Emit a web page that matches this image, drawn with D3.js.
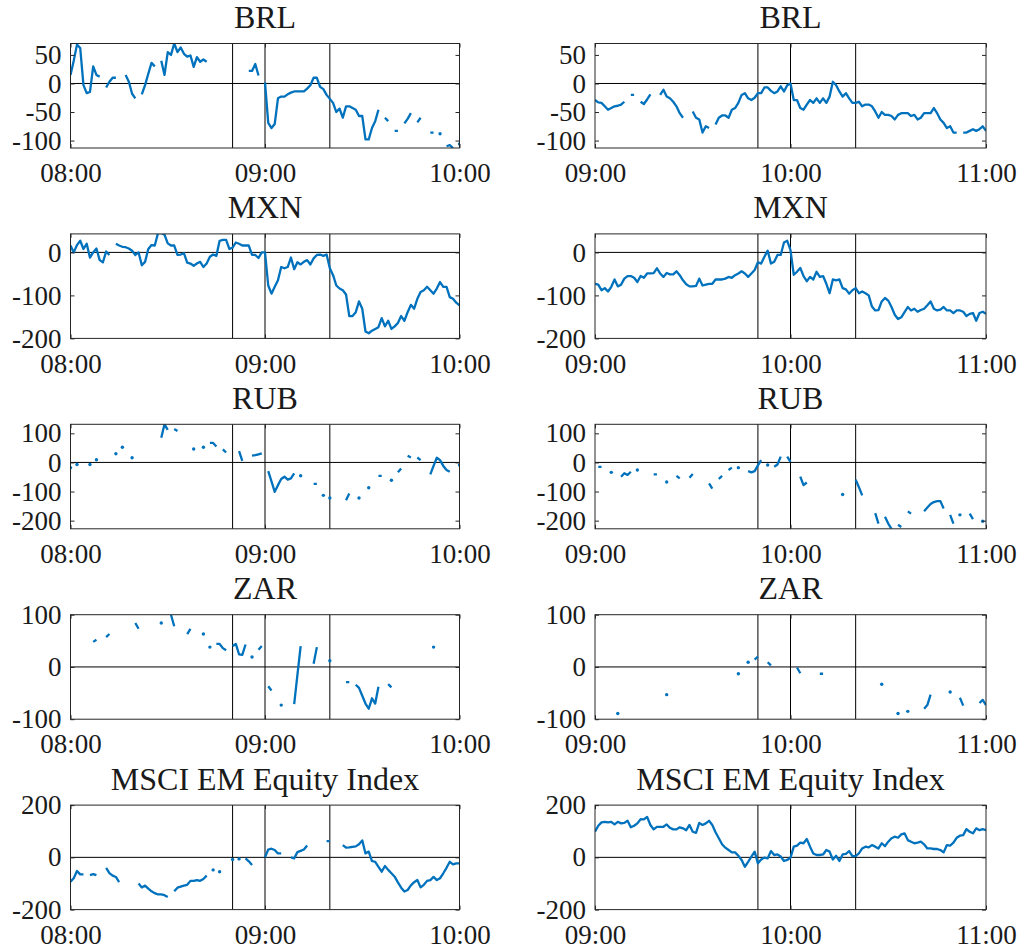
<!DOCTYPE html>
<html>
<head>
<meta charset="utf-8">
<script src="https://cdn.jsdelivr.net/npm/d3@7"></script>
<style>
  body { margin: 0; background: #fff; }
  svg { display: block; }
  text { font-family: "Liberation Serif", "Times New Roman", serif; fill: #1a1a1a; }
  .title { font-size: 32px; }
  .tick text { font-size: 27px; }
</style>
</head>
<body>
<svg id="chart" width="1021" height="952"></svg>
<script>
const _ = null;

// Minute-by-minute moves, 121 samples per two-hour window (null = no quote)
const brlL = [
  15, 40, 68, 62, -3, -17, -15, 30, 15, 12,
  _, -7, 3, 10, 10, _, _, 15, 3, -18,
  -26, _, -19, -3, 17, 36, 30, _, 40, 15,
  55, 50, 70, 55, 63, 52, 47, 49, 29, 46,
  38, 42, 38, _, _, _, _, _, _, _,
  _, _, _, _, _, 22, 22, 34, 14, _,
  2, -69, -78, -71, -26, -23, -23, -19, -16, -14,
  -14, -14, -14, -9, -3, 10, 10, -6, -10, -20,
  -27, -34, -50, -44, -60, -40, -40, -43, -46, -57,
  -57, -98, -98, -78, -66, -46, _, -60, -66, _,
  -83, -83, _, -70, -62, -52, _, -68, -60, _,
  _, -86, -86, _, -88, _, -110, -108, -113, _,
  -106
];
const brlR = [
  -29, -33, -34, -40, -46, -43, -40, -39, -37, -32,
  _, -20, -20, _, -32, -36, -28, -19, _, _,
  -20, -11, -23, -26, -32, -40, -52, -60, _, _,
  -49, -60, -63, -86, -75, -78, _, -72, -60, -56,
  -56, -60, -46, -43, -34, -20, -17, -26, -29, -25,
  -17, -17, -7, -7, -13, -17, -14, -5, -14, -3,
  0, -29, -29, -43, -46, -37, -29, -34, -26, -34,
  -26, -34, -23, 3, -3, -14, -23, -17, -26, -34,
  -34, -32, -40, -37, -37, -40, -49, -60, -50, -55,
  -55, -57, -63, -55, -52, -52, -52, -57, -55, -63,
  -60, -52, -52, -52, -43, -52, -63, -69, -78, -75,
  -86, -86, _, -86, -86, -83, -80, -83, -80, -75,
  -83
];
const mxnL = [
  16, 0, 17, 27, 8, 20, -12, 0, 9, -18,
  -23, 2, -6, _, 20, 16, 13, 12, 9, 4,
  -6, 0, -30, -22, 8, 17, 16, 45, 45, 41,
  21, 16, 16, -6, -5, -2, -24, -26, -31, -26,
  -22, -34, -26, -10, -5, -8, 27, 29, 29, 8,
  11, 23, 20, 16, 16, 16, -6, -6, -13, 0,
  0, -77, -96, -80, -65, -34, -37, -34, -12, -39,
  -23, -28, -22, -18, -28, -14, -6, -5, -8, -5,
  -37, -53, -77, -84, -88, -98, -148, -148, -139, -114,
  -131, -184, -188, -182, -178, -174, -153, -172, -159, -178,
  -172, -164, -148, -159, -139, -122, -131, -108, -92, -88,
  -80, -88, -96, -84, -69, -80, -80, -104, -108, -117,
  -123
];
const mxnR = [
  -73, -75, -88, -83, -91, -80, -63, -79, -75, -61,
  -55, -55, -59, -69, -55, -59, -49, -49, -48, -37,
  -49, -57, -48, -51, -51, -44, -53, -65, -74, -79,
  -79, -78, -61, -77, -75, -73, -73, -63, -63, -63,
  -61, -57, -59, -53, -49, -44, -49, -57, -49, -41,
  -23, -26, -10, 4, -26, -22, -6, -6, 23, 27,
  5, -52, -45, -36, -55, -67, -57, -63, -45, -57,
  -55, -73, -95, -63, -65, -63, -83, -86, -96, -88,
  -83, -95, -91, -95, -100, -126, -135, -134, -114, -106,
  -112, -127, -145, -155, -151, -139, -127, -135, -131, -138,
  -134, -131, -123, -114, -131, -135, -133, -127, -135, -135,
  -141, -135, -135, -138, -148, -143, -141, -159, -141, -138,
  -143
];
const rubL = [
  -18, _, -7, _, _, _, -7, _, 9, _,
  _, _, _, _, 30, _, 52, _, _, 16,
  _, _, _, _, _, _, _, _, 85, 131,
  112, _, 115, 108, _, _, _, _, 46, _,
  _, 52, _, 67, 67, 55, _, 45, 34, _,
  _, _, 39, 5, _, _, 23, 25, 28, 31,
  _, -30, -65, -101, -78, -57, -49, -59, -55, -38,
  _, -46, _, _, _, -74, -74, _, -113, _,
  -122, _, _, _, _, -130, -107, _, _, -122,
  _, _, -87, _, _, -46, -46, _, _, -61,
  _, -34, -21, _, 23, 17, _, 17, 8, _,
  _, -41, -12, 16, 8, -12, -26, -32, _, _,
  -9
];
const rubR = [
  _, -15, -15, _, _, -34, _, _, -49, -37,
  -43, -32, _, -26, _, _, _, _, -41, -41,
  _, _, -67, _, _, -46, -55, _, _, -53,
  -40, _, _, _, _, -72, -90, _, -57, -46,
  _, -26, -18, _, -18, _, _, -30, -34, -30,
  -10, 8, _, -9, _, -15, -7, 20, _, 20,
  2, _, _, -49, -78, -69, _, _, _, _,
  _, _, _, _, _, _, -110, _, _, _,
  -59, -85, -113, _, _, _, -174, -210, _, -187,
  -210, -228, _, -214, -222, _, -168, -176, _, _,
  _, -168, -155, -143, -136, -133, -133, -158, _, -180,
  -210, _, -180, _, _, -176, -195, _, _, -202,
  _
];
const zarL = [
  _, _, _, _, _, _, _, 48, 52, _,
  _, 57, 63, _, _, _, _, _, _, _,
  84, 73, _, _, _, _, _, _, 84, _,
  _, 100, 78, _, _, _, 63, 73, _, _,
  _, 63, _, 38, _, 44, 44, 36, 32, _,
  40, 44, 24, 23, 43, _, 19, _, 33, 40,
  _, -37, -45, _, _, -73, _, _, _, -71,
  -15, 40, _, _, _, 6, 38, _, _, _,
  12, _, _, _, _, -29, -29, _, -34, -40,
  -55, -70, -80, -60, -70, -38, _, _, -33, -39,
  _, _, _, _, _, _, _, _, _, _,
  _, _, 38, _, _, _, _, _, _, _,
  _
];
const zarR = [
  _, _, _, _, _, _, _, -89, _, _,
  _, _, _, _, _, _, _, _, _, _,
  _, _, -53, _, _, _, _, _, _, _,
  _, _, _, _, _, _, _, _, _, _,
  _, _, _, _, -13, _, _, 9, _, 14,
  20, _, _, 9, 3, _, _, _, _, _,
  _, _, -1, -12, _, _, _, _, _, -13,
  -13, _, _, _, _, _, _, _, _, _,
  _, _, _, _, _, _, _, _, -33, _,
  _, _, _, -89, _, _, -85, _, _, _,
  _, -80, -73, -53, _, _, _, _, _, -48,
  _, _, -59, -74, _, _, _, _, -69, -63,
  -73
];
const mscL = [
  -93, -80, -52, -65, -65, _, -68, -64, -68, _,
  _, -40, -60, -70, -75, -95, _, _, _, _,
  _, -100, -115, -108, -120, -130, -137, -142, -142, -145,
  -152, _, -130, -116, -112, -108, -105, -90, -90, -87,
  -90, -83, -70, _, -48, _, -55, _, _, _,
  -8, _, -6, _, -4, -15, -29, _, _, _,
  0, 30, 33, 28, 15, 15, _, _, 0, -4,
  20, 25, 30, 45, _, _, _, _, _, 62,
  62, _, _, _, 47, 37, 38, 40, 42, 50,
  65, 15, 22, -14, -17, -36, -55, -33, -48, -61,
  -74, -96, -116, -131, -125, -107, -95, -87, -115, -105,
  -90, -87, -75, -87, -80, -61, -40, -17, -27, -23,
  -23
];
const mscR = [
  98, 121, 134, 136, 134, 136, 126, 136, 130, 132,
  140, 115, 121, 130, 146, 145, 155, 124, 107, 117,
  117, 117, 126, 113, 107, 107, 115, 111, 104, 124,
  98, 94, 132, 124, 130, 140, 124, 96, 73, 50,
  37, 28, 19, 19, 6, -10, -36, -17, 3, 22,
  -23, -8, -1, -4, 24, 9, 11, 3, -14, -10,
  -1, 41, 45, 56, 54, 70, 41, 15, 9, 9,
  11, 28, 22, -8, 6, -14, 11, 13, 24, 5,
  5, 15, 34, 41, 38, 47, 41, 34, 54, 43,
  60, 73, 79, 75, 88, 92, 66, 60, 54, 56,
  60, 50, 34, 34, 32, 32, 28, 19, 47, 45,
  56, 75, 83, 85, 108, 98, 92, 111, 104, 108,
  104
];

// Panel titles, y limits and y tick values, one entry per row
const titles = ["BRL", "MXN", "RUB", "ZAR", "MSCI EM Equity Index"];
const yLimits = [[-113, 70], [-200, 43], [-228, 131], [-100, 100], [-200, 200]];
const yTickValues = [[-100, -50, 0, 50], [-200, -100, 0], [-200, -100, 0, 100], [-100, 0, 100], [-200, 0, 200]];
const seriesByRow = [[brlL, brlR], [mxnL, mxnR], [rubL, rubR], [zarL, zarR], [mscL, mscR]];

// Time windows of the two columns, their tick labels and event markers
const windowStart = ["08:00", "09:00"];
const windowEnd = ["10:00", "11:00"];
const xTickLabels = [["08:00", "09:00", "10:00"], ["09:00", "10:00", "11:00"]];
const eventTimes = [["08:50", "09:00", "09:20"], ["09:50", "10:00", "10:20"]];

// Layout
const colRange = [[70.5, 459.5], [595, 986]];
const firstTop = 43.5, rowGap = 190.4, plotH = 104.5;
const blue = "#0072BD", ink = "#262626";

const svg = d3.select("#chart");
const parseT = d3.timeParse("%H:%M");
const fmt = d3.timeFormat("%H:%M");

titles.forEach((title, i) => {
  const top = firstTop + i * rowGap;
  const bottom = top + plotH;
  [0, 1].forEach(j => {
    const [x0, x1] = colRange[j];
    const start = parseT(windowStart[j]);
    const x = d3.scaleTime().domain([start, parseT(windowEnd[j])]).range([x0, x1]);
    const y = d3.scaleLinear().domain(yLimits[i]).range([bottom, top]);
    const g = svg.append("g");
    const clipId = `clip-${i}-${j}`;
    g.append("clipPath").attr("id", clipId)
      .append("rect").attr("x", x0).attr("y", top).attr("width", x1 - x0).attr("height", plotH);

    g.append("text").attr("class", "title")
      .attr("x", (x0 + x1) / 2).attr("y", top - 15.5)
      .attr("text-anchor", "middle").text(title);

    // zero reference and event markers
    g.append("line")
      .attr("x1", x0).attr("x2", x1).attr("y1", y(0)).attr("y2", y(0))
      .attr("stroke", "#000").attr("stroke-width", 1);
    g.selectAll("line.event").data(eventTimes[j].map(parseT)).join("line")
      .attr("class", "event")
      .attr("x1", d => x(d)).attr("x2", d => x(d)).attr("y1", top).attr("y2", bottom)
      .attr("stroke", "#000").attr("stroke-width", 1);

    // series
    const pts = seriesByRow[i][j].map((v, k) => ({ t: d3.timeMinute.offset(start, k), v }));
    const line = d3.line().defined(d => d.v !== null).x(d => x(d.t)).y(d => y(d.v));
    g.append("path")
      .attr("clip-path", `url(#${clipId})`)
      .attr("d", line(pts))
      .attr("fill", "none").attr("stroke", blue).attr("stroke-width", 2.3)
      .attr("stroke-linejoin", "round");
    const lone = pts.filter((d, k) => d.v !== null &&
      (k === 0 || pts[k - 1].v === null) && (k === pts.length - 1 || pts[k + 1].v === null));
    g.selectAll("circle").data(lone).join("circle")
      .attr("clip-path", `url(#${clipId})`)
      .attr("cx", d => x(d.t)).attr("cy", d => y(d.v)).attr("r", 1.7)
      .attr("fill", blue);

    // frame and axes
    g.append("rect").attr("x", x0).attr("y", top).attr("width", x1 - x0).attr("height", plotH)
      .attr("fill", "none").attr("stroke", ink).attr("stroke-width", 1);

    const xt = xTickLabels[j].map(parseT);
    const axB = g.append("g").attr("transform", `translate(0,${bottom})`)
      .call(d3.axisBottom(x).tickValues(xt).tickFormat(fmt).tickSizeInner(-4).tickSizeOuter(0).tickPadding(15));
    const axT = g.append("g").attr("transform", `translate(0,${top})`)
      .call(d3.axisTop(x).tickValues(xt).tickFormat("").tickSizeInner(-4).tickSizeOuter(0));
    const axL = g.append("g").attr("transform", `translate(${x0},0)`)
      .call(d3.axisLeft(y).tickValues(yTickValues[i]).tickFormat(d => String(d)).tickSizeInner(-4).tickSizeOuter(0).tickPadding(9));
    const axR = g.append("g").attr("transform", `translate(${x1},0)`)
      .call(d3.axisRight(y).tickValues(yTickValues[i]).tickFormat("").tickSizeInner(-4).tickSizeOuter(0));
    [axB, axT, axL, axR].forEach(a => {
      a.attr("font-family", null).attr("font-size", null);
      a.select(".domain").remove();
      a.selectAll(".tick line").attr("stroke", ink);
    });
  });
});
</script>
</body>
</html>
